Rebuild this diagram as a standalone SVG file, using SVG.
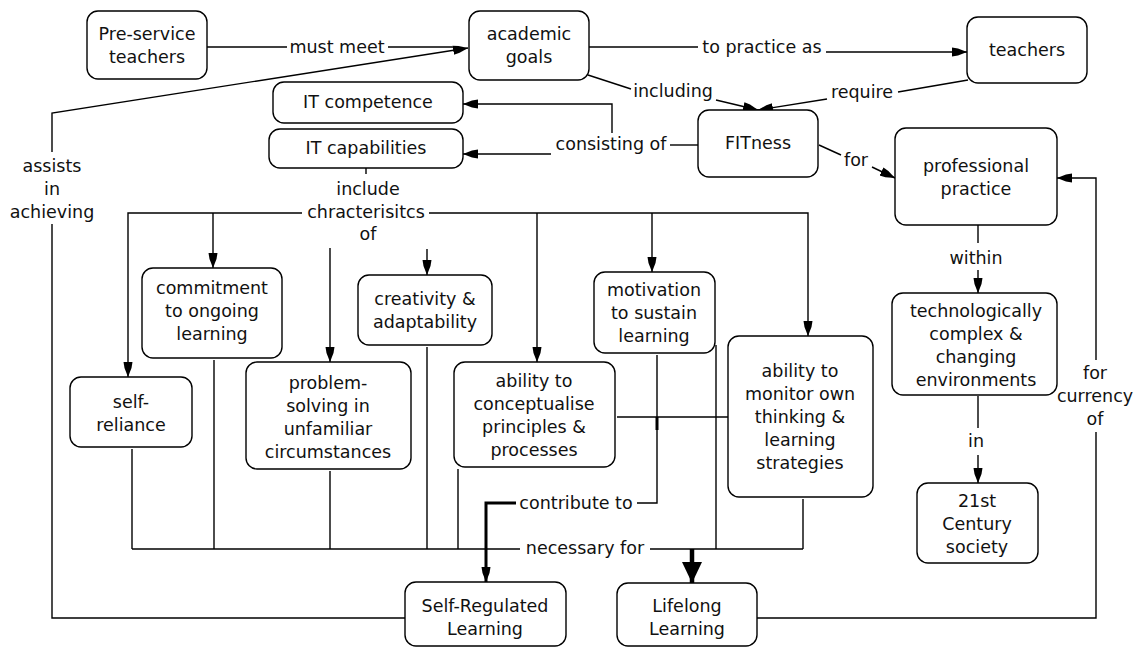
<svg xmlns="http://www.w3.org/2000/svg" width="1140" height="650" viewBox="0 0 1140 650">
<defs>
<style>
.n rect{fill:#fff;stroke:#000;stroke-width:1.4}
text{font-family:"DejaVu Sans","Liberation Sans",sans-serif;font-size:17.5px;fill:#111;text-anchor:middle}
.c path,.c line,.c polyline{fill:none;stroke:#000;stroke-width:1.4}
.c .thick{stroke-width:3}
.c .vthick{stroke-width:4.5}
</style>
<marker id="a" markerUnits="userSpaceOnUse" markerWidth="18" markerHeight="12" refX="15" refY="5" orient="auto">
<path d="M0,0.5 L6,1.5 L15,5 L6,8.5 L0,9.5 z" fill="#000"/>
</marker>
<marker id="ab" markerUnits="userSpaceOnUse" markerWidth="24" markerHeight="24" refX="21" refY="11" orient="auto">
<path d="M0,1 L21,11 L0,21 z" fill="#000"/>
</marker>
</defs>
<rect width="1140" height="650" fill="#fff"/>

<g id="connectors" class="c">
<line x1="207" y1="47" x2="287" y2="47"/>
<line x1="388" y1="47" x2="458" y2="47"/>
<polyline points="405,618 52,618 52,224"/>
<polyline points="52,152 52,113 468,48" marker-end="url(#a)"/>
<text x="337" y="53">must meet</text>
<text x="52" y="172">assists</text>
<text x="52" y="195">in</text>
<text x="52" y="218">achieving</text>

<line x1="589" y1="47" x2="698" y2="47"/>
<line x1="826" y1="52" x2="967" y2="52" marker-end="url(#a)"/>
<text x="762" y="53">to practice as</text>

<line x1="588" y1="75" x2="631" y2="89"/>
<line x1="716" y1="100" x2="758" y2="110" marker-end="url(#a)"/>
<text x="673" y="97">including</text>

<line x1="968" y1="80" x2="898" y2="92"/>
<line x1="827" y1="99" x2="758" y2="110" marker-end="url(#a)"/>
<text x="862" y="98">require</text>

<line x1="698" y1="145" x2="670" y2="145"/>
<polyline points="612,133 612,104 463,104" marker-end="url(#a)"/>
<line x1="551" y1="154" x2="463" y2="154" marker-end="url(#a)"/>
<text x="611" y="150">consisting of</text>

<line x1="819" y1="145" x2="841" y2="155"/>
<line x1="872" y1="167" x2="895" y2="178" marker-end="url(#a)"/>
<text x="856" y="166">for</text>

<line x1="978" y1="225" x2="978" y2="243"/>
<line x1="978" y1="270" x2="978" y2="293" marker-end="url(#a)"/>
<text x="976" y="264">within</text>

<line x1="978" y1="396" x2="978" y2="428"/>
<line x1="978" y1="455" x2="978" y2="483" marker-end="url(#a)"/>
<text x="976" y="447">in</text>

<polyline points="757,618 1096,618 1096,432"/>
<polyline points="1096,360 1096,178 1057,178" marker-end="url(#a)"/>
<text x="1095" y="379">for</text>
<text x="1095" y="402">currency</text>
<text x="1095" y="425">of</text>

<line x1="366" y1="168" x2="366" y2="174"/>
<text x="368" y="195">include</text>
<text x="366" y="218">chracterisitcs</text>
<text x="368" y="240">of</text>
<polyline points="302,213 128,213 128,377" marker-end="url(#a)"/>
<line x1="213" y1="213" x2="213" y2="268" marker-end="url(#a)"/>
<polyline points="429,213 808,213 808,336" marker-end="url(#a)"/>
<line x1="537" y1="213" x2="537" y2="362" marker-end="url(#a)"/>
<line x1="652" y1="213" x2="652" y2="272" marker-end="url(#a)"/>
<line x1="330" y1="248" x2="330" y2="362" marker-end="url(#a)"/>
<line x1="427" y1="249" x2="427" y2="275" marker-end="url(#a)"/>

<line x1="132" y1="449" x2="132" y2="549"/>
<line x1="214" y1="360" x2="214" y2="549"/>
<line x1="330" y1="471" x2="330" y2="549"/>
<line x1="427" y1="347" x2="427" y2="549"/>
<line x1="458" y1="469" x2="458" y2="549"/>
<line x1="716" y1="345" x2="716" y2="549"/>
<line x1="803" y1="499" x2="803" y2="549"/>
<line x1="132" y1="549" x2="520" y2="549"/>
<line x1="650" y1="549" x2="803" y2="549"/>
<line class="vthick" x1="692" y1="549" x2="692" y2="583" marker-end="url(#ab)"/>
<text x="585" y="554">necessary for</text>

<line x1="617" y1="417" x2="728" y2="417"/>
<polyline points="657,355 657,503 637,503"/>
<line class="thick" x1="657" y1="417" x2="657" y2="430"/>
<polyline class="thick" points="516,503 486,503 486,582" marker-end="url(#a)"/>
<text x="576" y="509">contribute to</text>
</g>

<g id="n-preservice" class="n"><rect x="87" y="11" width="120" height="68" rx="11"/><text x="147" y="40">Pre-service</text><text x="147" y="63">teachers</text></g>
<g id="n-academic" class="n"><rect x="469" y="11" width="120" height="69" rx="11"/><text x="529" y="40">academic</text><text x="529" y="63">goals</text></g>
<g id="n-teachers" class="n"><rect x="967" y="17" width="120" height="66" rx="11"/><text x="1027" y="56">teachers</text></g>
<g id="n-itcomp" class="n"><rect x="273" y="82" width="190" height="41" rx="11"/><text x="368" y="108">IT competence</text></g>
<g id="n-itcap" class="n"><rect x="269" y="129" width="194" height="39" rx="11"/><text x="366" y="154">IT capabilities</text></g>
<g id="n-fitness" class="n"><rect x="698" y="110" width="120" height="67" rx="11"/><text x="758" y="149">FITness</text></g>
<g id="n-profprac" class="n"><rect x="895" y="128" width="162" height="97" rx="11"/><text x="976" y="172">professional</text><text x="976" y="195">practice</text></g>
<g id="n-tech" class="n"><rect x="892" y="293" width="165" height="102" rx="11"/><text x="976" y="317">technologically</text><text x="976" y="340">complex &amp;</text><text x="976" y="363">changing</text><text x="976" y="386">environments</text></g>
<g id="n-21st" class="n"><rect x="917" y="483" width="121" height="80" rx="11"/><text x="977" y="507">21st</text><text x="977" y="530">Century</text><text x="977" y="553">society</text></g>
<g id="n-commit" class="n"><rect x="142" y="268" width="140" height="90" rx="11"/><text x="212" y="294">commitment</text><text x="212" y="317">to ongoing</text><text x="212" y="340">learning</text></g>
<g id="n-selfrel" class="n"><rect x="70" y="377" width="122" height="70" rx="11"/><text x="131" y="408">self-</text><text x="131" y="431">reliance</text></g>
<g id="n-problem" class="n"><rect x="246" y="362" width="165" height="107" rx="11"/><text x="328" y="389">problem-</text><text x="328" y="412">solving in</text><text x="328" y="435">unfamiliar</text><text x="328" y="458">circumstances</text></g>
<g id="n-creat" class="n"><rect x="358" y="275" width="134" height="70" rx="11"/><text x="425" y="305">creativity &amp;</text><text x="425" y="328">adaptability</text></g>
<g id="n-concept" class="n"><rect x="454" y="362" width="161" height="105" rx="11"/><text x="534" y="387">ability to</text><text x="534" y="410">conceptualise</text><text x="534" y="433">principles &amp;</text><text x="534" y="456">processes</text></g>
<g id="n-motiv" class="n"><rect x="594" y="272" width="121" height="81" rx="11"/><text x="654" y="296">motivation</text><text x="654" y="319">to sustain</text><text x="654" y="342">learning</text></g>
<g id="n-monitor" class="n"><rect x="728" y="336" width="145" height="161" rx="11"/><text x="800" y="377">ability to</text><text x="800" y="400">monitor own</text><text x="800" y="423">thinking &amp;</text><text x="800" y="446">learning</text><text x="800" y="469">strategies</text></g>
<g id="n-srl" class="n"><rect x="405" y="582" width="161" height="64" rx="11"/><text x="485" y="612">Self-Regulated</text><text x="485" y="635">Learning</text></g>
<g id="n-lifelong" class="n"><rect x="617" y="583" width="140" height="63" rx="11"/><text x="687" y="612">Lifelong</text><text x="687" y="635">Learning</text></g>
</svg>
